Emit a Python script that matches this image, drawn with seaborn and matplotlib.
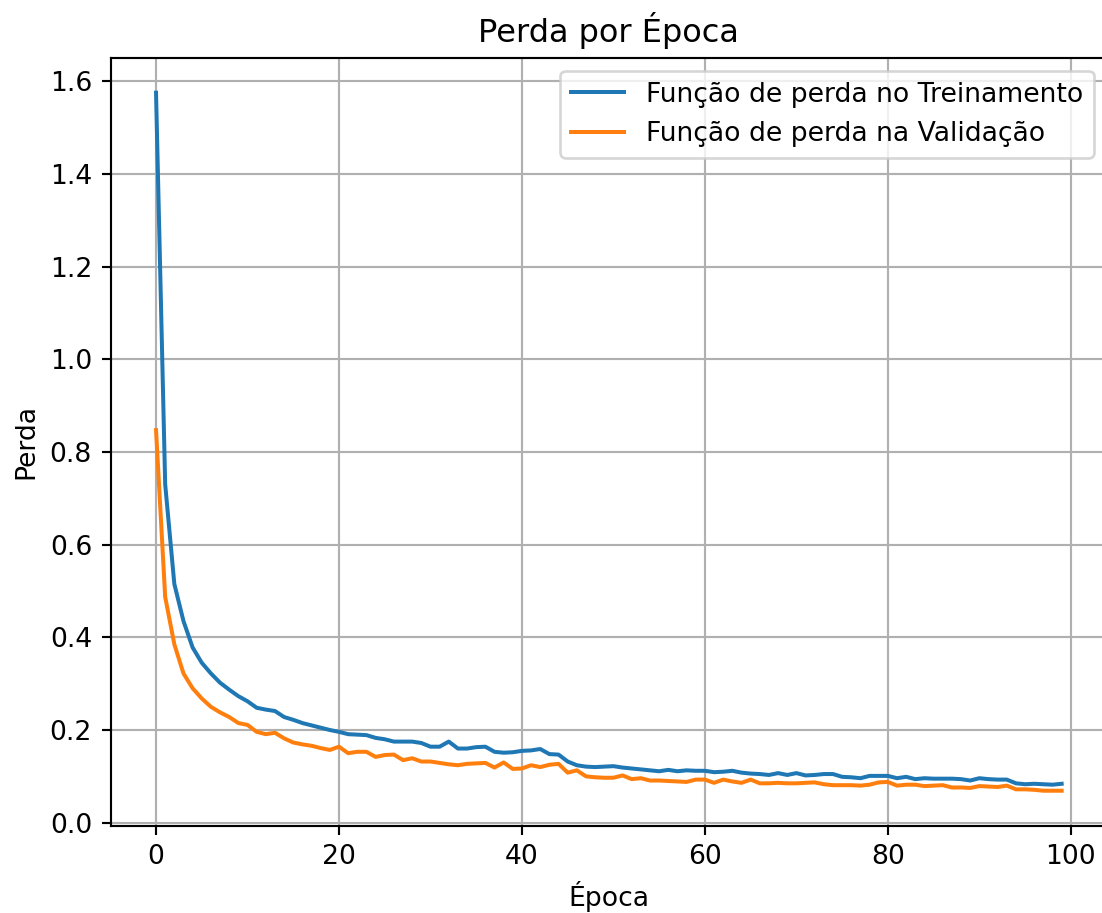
import numpy as np
import pandas as pd
import matplotlib
matplotlib.use('Agg')
import matplotlib.pyplot as plt
import seaborn as sns

# Historico de perda (100 epocas)
epocas = list(range(100))

perda_treino = [
    1.575, 0.730, 0.515, 0.435, 0.378, 0.345, 0.322, 0.302, 0.287, 0.273,
    0.262, 0.248, 0.244, 0.241, 0.228, 0.222, 0.215, 0.210, 0.205, 0.200,
    0.196, 0.191, 0.190, 0.189, 0.183, 0.180, 0.175, 0.175, 0.175, 0.172,
    0.164, 0.164, 0.175, 0.160, 0.160, 0.163, 0.164, 0.153, 0.151, 0.152,
    0.155, 0.156, 0.159, 0.148, 0.147, 0.132, 0.124, 0.121, 0.120, 0.121,
    0.122, 0.119, 0.117, 0.115, 0.113, 0.111, 0.114, 0.111, 0.113, 0.112,
    0.112, 0.109, 0.110, 0.112, 0.108, 0.106, 0.105, 0.103, 0.107, 0.103,
    0.107, 0.102, 0.103, 0.105, 0.105, 0.099, 0.098, 0.096, 0.101, 0.101,
    0.101, 0.096, 0.099, 0.094, 0.096, 0.095, 0.095, 0.095, 0.094, 0.091,
    0.096, 0.094, 0.093, 0.093, 0.085, 0.083, 0.084, 0.083, 0.082, 0.084,
]

perda_validacao = [
    0.847, 0.487, 0.385, 0.322, 0.290, 0.268, 0.250, 0.238, 0.228, 0.215,
    0.211, 0.196, 0.191, 0.194, 0.182, 0.173, 0.169, 0.166, 0.161, 0.157,
    0.164, 0.150, 0.153, 0.153, 0.142, 0.146, 0.147, 0.135, 0.139, 0.132,
    0.132, 0.129, 0.126, 0.124, 0.127, 0.128, 0.129, 0.119, 0.130, 0.116,
    0.117, 0.124, 0.120, 0.125, 0.127, 0.108, 0.113, 0.100, 0.098, 0.097,
    0.097, 0.102, 0.094, 0.096, 0.091, 0.091, 0.090, 0.089, 0.088, 0.093,
    0.093, 0.086, 0.093, 0.089, 0.086, 0.093, 0.085, 0.085, 0.086, 0.085,
    0.085, 0.086, 0.087, 0.083, 0.081, 0.081, 0.081, 0.080, 0.082, 0.087,
    0.088, 0.080, 0.082, 0.082, 0.079, 0.080, 0.081, 0.076, 0.076, 0.075,
    0.079, 0.078, 0.077, 0.080, 0.072, 0.072, 0.071, 0.069, 0.069, 0.069,
]

rotulo_treino = 'Função de perda no Treinamento'
rotulo_validacao = 'Função de perda na Validação'

df = pd.DataFrame({
    'epoca': epocas,
    'treino': perda_treino,
    'validacao': perda_validacao,
})

DPI = 192
fig = plt.figure(figsize=(1102 / DPI, 913 / DPI), dpi=DPI)
# posicao dos eixos (o original foi cortado na borda direita)
ax = fig.add_axes([0.1005, 0.0957, 0.904, 0.841])

sns.lineplot(data=df, x='epoca', y='treino', label=rotulo_treino,
             color='#1f77b4', linewidth=1.5, ax=ax)
sns.lineplot(data=df, x='epoca', y='validacao', label=rotulo_validacao,
             color='#ff7f0e', linewidth=1.5, ax=ax)

ax.set_title('Perda por Época')
ax.set_xlabel('Época')
ax.set_ylabel('Perda')
ax.set_xticks([0, 20, 40, 60, 80, 100])
ax.set_yticks(np.arange(0, 1.61, 0.2))
ax.legend(loc='upper right')
ax.grid(True)
ax.spines['right'].set_visible(False)

fig.savefig('out.png', dpi=DPI)
